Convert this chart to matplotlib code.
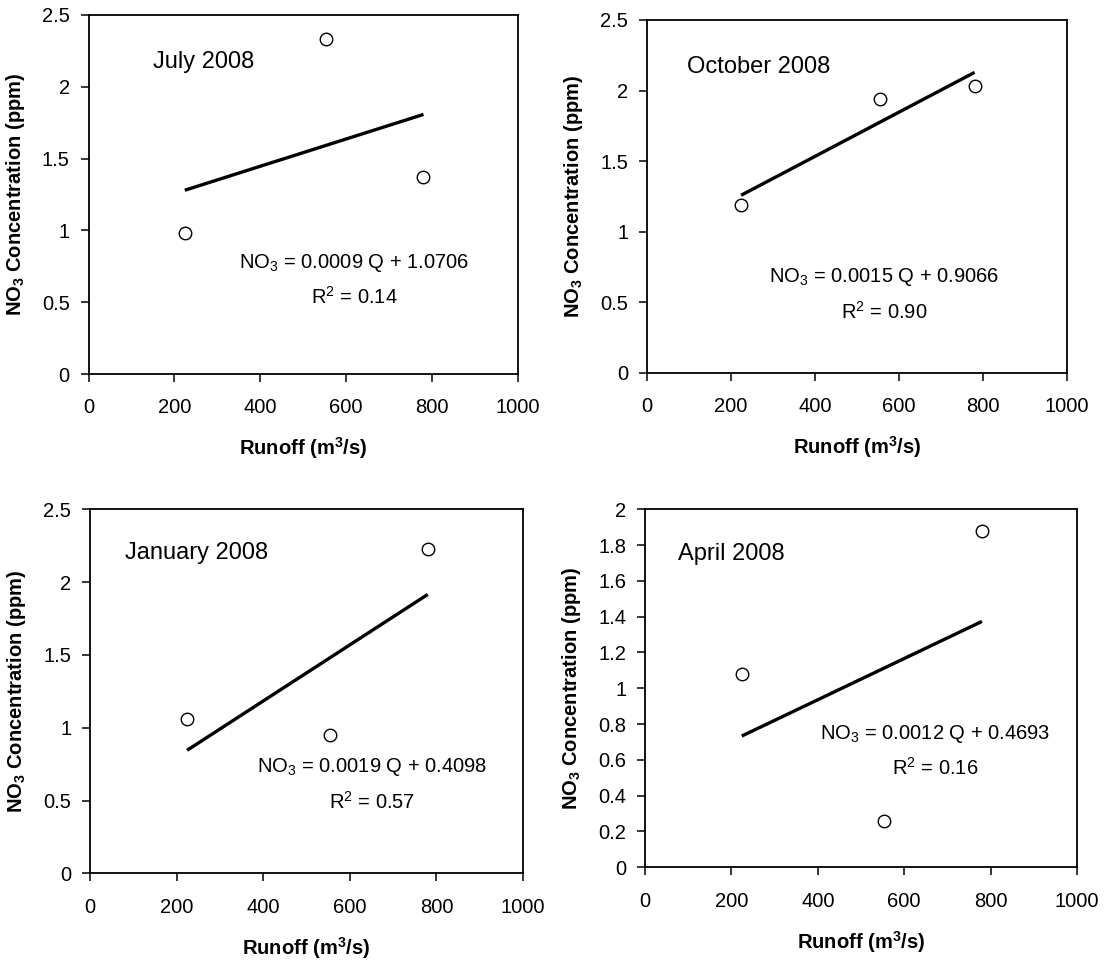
import numpy as np
import matplotlib
matplotlib.use("Agg")
import matplotlib.pyplot as plt
from matplotlib.ticker import FormatStrFormatter, MultipleLocator

plt.rcParams['font.family'] = ['Liberation Sans', 'DejaVu Sans']
plt.rcParams['mathtext.fontset'] = 'custom'
plt.rcParams['mathtext.rm'] = 'Liberation Sans'
plt.rcParams['mathtext.it'] = 'Liberation Sans:italic'
plt.rcParams['mathtext.bf'] = 'Liberation Sans:bold'

# data
runoff = [224, 554, 780]
months = ["July 2008", "October 2008", "January 2008", "April 2008"]
no3_july = [0.98, 2.33, 1.37]
no3_oct = [1.19, 1.94, 2.03]
no3_jan = [1.06, 0.95, 2.23]
no3_apr = [1.08, 0.26, 1.88]
equations = [
    r"NO$_\mathregular{3}$ = 0.0009 Q + 1.0706",
    r"NO$_\mathregular{3}$ = 0.0015 Q + 0.9066",
    r"NO$_\mathregular{3}$ = 0.0019 Q + 0.4098",
    r"NO$_\mathregular{3}$ = 0.0012 Q + 0.4693",
]
r2_labels = [
    r"R$^\mathregular{2}$ = 0.14",
    r"R$^\mathregular{2}$ = 0.90",
    r"R$^\mathregular{2}$ = 0.57",
    r"R$^\mathregular{2}$ = 0.16",
]
y_max = [2.5, 2.5, 2.5, 2.0]
y_step = [0.5, 0.5, 0.5, 0.2]

series = [no3_july, no3_oct, no3_jan, no3_apr]

# layout: axes rectangles (figure fraction) and text anchors (axes fraction)
rects = [
    [0.0801, 0.6104, 0.3882, 0.3740],
    [0.5850, 0.6118, 0.3797, 0.3674],
    [0.0814, 0.0903, 0.3915, 0.3792],
    [0.5832, 0.0966, 0.3906, 0.3729],
]
title_pos = [(0.150, 0.870), (0.095, 0.868), (0.081, 0.879), (0.076, 0.875)]
eq_pos = [(0.619, 0.308, 0.215), (0.565, 0.272, 0.173),
          (0.651, 0.291, 0.197), (0.672, 0.372, 0.279)]

fig = plt.figure(figsize=(11.06, 9.6), dpi=100)

for i in range(4):
    ax = fig.add_axes(rects[i])
    x = np.array(runoff, dtype=float)
    y = np.array(series[i], dtype=float)

    # linear trend line over the data range
    slope, intercept = np.polyfit(x, y, 1)
    xs = np.array([x.min(), x.max()])
    ax.plot(xs, slope * xs + intercept, color='black', lw=2.4, solid_capstyle='butt')

    ax.plot(x, y, 'o', ms=9, mfc='white', mec='black', mew=1.0)

    ax.set_xlim(0, 1000)
    ax.set_ylim(0, y_max[i])
    ax.xaxis.set_major_locator(MultipleLocator(200))
    ax.yaxis.set_major_locator(MultipleLocator(y_step[i]))
    ax.yaxis.set_major_formatter(FormatStrFormatter('%g'))

    for s in ax.spines.values():
        s.set_linewidth(1.3)
    ax.tick_params(axis='both', direction='out', length=5.5, width=1.1,
                   labelsize=14.5, top=False, right=False)
    ax.tick_params(axis='x', pad=12)
    ax.tick_params(axis='y', pad=8)

    ax.set_xlabel(r"Runoff (m$^\mathbf{3}$/s)", fontsize=14.5,
                  fontweight='bold', labelpad=13)
    ax.set_ylabel(r"NO$_\mathbf{3}$ Concentration (ppm)", fontsize=14.5,
                  fontweight='bold', labelpad=11)

    tx, ty = title_pos[i]
    ax.text(tx, ty, months[i], transform=ax.transAxes, fontsize=17,
            ha='left', va='center')
    ex, ey1, ey2 = eq_pos[i]
    ax.text(ex, ey1, equations[i], transform=ax.transAxes, fontsize=14.5,
            ha='center', va='center')
    ax.text(ex, ey2, r2_labels[i], transform=ax.transAxes, fontsize=14.5,
            ha='center', va='center')

fig.savefig("out.png", dpi=100, facecolor='white')
